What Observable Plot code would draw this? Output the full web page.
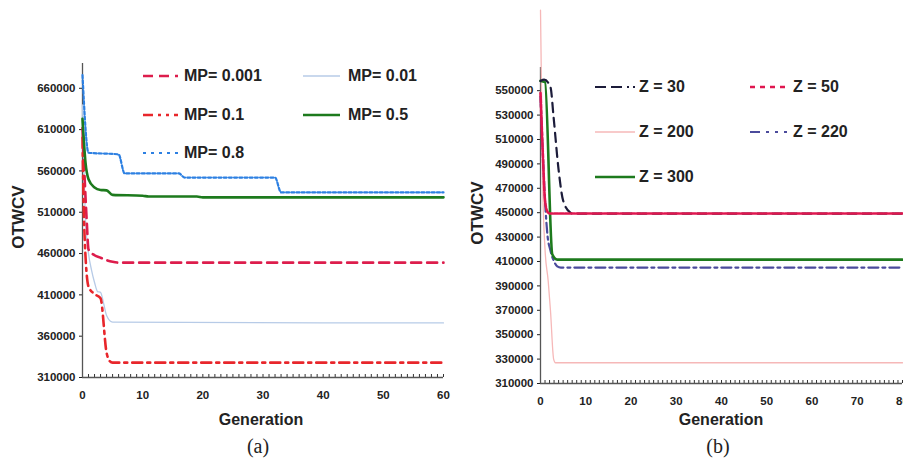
<!DOCTYPE html>
<html><head><meta charset="utf-8">
<script src="https://cdn.jsdelivr.net/npm/d3@7"></script>
<script src="https://cdn.jsdelivr.net/npm/@observablehq/plot@0.6"></script>
<style>
body{margin:0;background:#fff;}
#wrap{position:relative;width:903px;height:461px;overflow:hidden;background:#fff;font-family:"Liberation Sans",Arial,sans-serif;}
.panel{position:absolute;top:0;}
.leg{position:absolute;height:20px;display:flex;align-items:center;font-weight:bold;font-size:16px;color:#222;white-space:nowrap;}
.leg svg{display:block;}
.ttl{position:absolute;font-weight:bold;color:#222;white-space:nowrap;transform:translate(-50%,-50%);}
.cap{position:absolute;font-family:"Liberation Serif","Times New Roman",serif;font-size:20px;color:#222;transform:translate(-50%,-50%);}
</style></head><body><div id="wrap"></div>
<script>
// ---------- Panel (a): mutation probability ----------
const yTicksA = [310000, 360000, 410000, 460000, 510000, 560000, 610000, 660000];
const xTicksA = [0, 10, 20, 30, 40, 50, 60];

const mp0001Gen = [0, 0.3, 0.7, 1, 2, 3, 4, 5, 6, 60];
const mp0001Val = [612000, 560000, 500000, 465000, 458000, 455000, 452000, 450000, 449000, 449000];

const mp001Gen = [0, 0.5, 1, 1.5, 2, 2.5, 3, 3.5, 4, 5, 60];
const mp001Val = [640000, 500000, 460000, 440000, 425000, 414000, 413000, 400000, 385000, 377000, 376000];

const mp01Gen = [0, 0.3, 1, 2, 3, 4, 4.5, 5, 60];
const mp01Val = [600000, 490000, 420000, 411000, 406000, 340000, 330000, 328000, 328000];

const mp05Gen = [0, 0.5, 1, 2, 3, 4, 5, 10, 11, 19, 20, 60];
const mp05Val = [623000, 570000, 550000, 540000, 537000, 536500, 531000, 530000, 529000, 529000, 528000, 528000];

const mp08Gen = [0, 1, 6, 7, 16, 17, 32, 33, 60];
const mp08Val = [676000, 582000, 580000, 557000, 557000, 552000, 552000, 534000, 534000];

// ---------- Panel (b): population size ----------
const yTicksB = [310000, 330000, 350000, 370000, 390000, 410000, 430000, 450000, 470000, 490000, 510000, 530000, 550000];
const xTicksB = [0, 10, 20, 30, 40, 50, 60, 70, 80];

const z30Gen = [0, 0.8, 2.2, 2.9, 4, 5, 6.6, 7, 80];
const z30Val = [558000, 559000, 553000, 528000, 485000, 460000, 450000, 449300, 449300];

const z50Gen = [0, 0.5, 1, 1.5, 2, 80];
const z50Val = [548000, 500000, 460000, 451000, 449300, 449300];

const z200Gen = [0, 0.5, 1, 1.7, 2.2, 2.9, 3.3, 80];
const z200Val = [616000, 470000, 420000, 394000, 370000, 330000, 327000, 327000];

const z220Gen = [0, 0.5, 1, 1.5, 2.2, 3, 3.7, 4.5, 80];
const z220Val = [545000, 500000, 460000, 433000, 419000, 410000, 406000, 405000, 405000];

const z300Gen = [0, 1, 2.6, 3.7, 80];
const z300Val = [558000, 557000, 416000, 411500, 411500];

// ---------- styles ----------
const seriesA = [
  {name: "MP= 0.01",  gen: mp001Gen,  val: mp001Val,  stroke: "#b7cbe7", width: 1.3, dash: null},
  {name: "MP= 0.001", gen: mp0001Gen, val: mp0001Val, stroke: "#dd1d4c", width: 2.6, dash: "10,6"},
  {name: "MP= 0.1",   gen: mp01Gen,   val: mp01Val,   stroke: "#e8262b", width: 2.6, dash: "10,5,3,5", legDash: "10,5,3,5,3,5"},
  {name: "MP= 0.5",   gen: mp05Gen,   val: mp05Val,   stroke: "#1d7a1d", width: 2.6, dash: null},
  {name: "MP= 0.8",   gen: mp08Gen,   val: mp08Val,   stroke: "#2d80e2", width: 2.2, dash: "3,2.2", legDash: "3,5"}
];
const seriesB = [
  {name: "Z = 200", gen: z200Gen, val: z200Val, stroke: "#f6b8b8", width: 1.3, dash: null},
  {name: "Z = 220", gen: z220Gen, val: z220Val, stroke: "#4b4b9c", width: 2.2, dash: "10,4,3,4", legDash: "10,6,3,6,3,6"},
  {name: "Z = 300", gen: z300Gen, val: z300Val, stroke: "#1d7a1d", width: 2.6, dash: null},
  {name: "Z = 30",  gen: z30Gen,  val: z30Val,  stroke: "#1c1c3a", width: 2.2, dash: "9,6", legDash: "11,5,11,5,2,4"},
  {name: "Z = 50",  gen: z50Gen,  val: z50Val,  stroke: "#e0174f", width: 2.6, dash: "4,1.5", legDash: "5,5"}
];

function rows(s) { return s.gen.map((g, i) => ({gen: g, val: s.val[i]})); }

function panel(opts) {
  const {width, marginLeft, marginRight, marginTop, marginBottom, xDomain, yDomain, yTicks, xTicks, series, minor} = opts;
  const plotH = 461 - marginTop - marginBottom;
  return Plot.plot({
    width, height: 461, marginLeft, marginRight, marginTop, marginBottom,
    style: {fontFamily: '"Liberation Sans", Arial, sans-serif', fontWeight: "bold", fontSize: "11.5px", color: "#222", background: "transparent"},
    x: {domain: xDomain, ticks: xTicks, tickSize: 0, tickPadding: 13, tickFormat: d => String(d), label: null},
    y: {domain: yDomain, ticks: yTicks, tickSize: 3, tickPadding: 4, tickFormat: d => String(d), label: null},
    marks: [
      Plot.ruleX(minor, {x: d => d, insetTop: plotH - 3, stroke: "#333", strokeWidth: 1}),
      Plot.ruleY([yDomain[0]], {stroke: "#555", strokeWidth: 1.3}),
      Plot.ruleX([xDomain[0]], {stroke: "#555", strokeWidth: 1.3}),
      ...series.map(s => Plot.line(rows(s), {x: "gen", y: "val", stroke: s.stroke, strokeWidth: s.width, strokeDasharray: s.dash, curve: "monotone-x"}))
    ]
  });
}

const wrap = document.getElementById("wrap");

const pa = panel({width: 460, marginLeft: 82, marginRight: 17, marginTop: 63, marginBottom: 84,
  xDomain: [0, 60], yDomain: [310000, 690000], yTicks: yTicksA, xTicks: xTicksA, series: seriesA, minor: d3.range(0, 61)});
pa.classList.add("panel"); pa.style.left = "0px";
wrap.appendChild(pa);

const pb = panel({width: 433, marginLeft: 70, marginRight: 1, marginTop: 67, marginBottom: 78,
  xDomain: [0, 80], yDomain: [310000, 569000], yTicks: yTicksB, xTicks: xTicksB, series: seriesB, minor: d3.range(0, 81)});
pb.classList.add("panel"); pb.style.left = "470px";
wrap.appendChild(pb);

// ---------- legends ----------
function legendItem(s, x, y, sw, tx) {
  const d = document.createElement("div");
  d.className = "leg";
  d.style.left = x + "px"; d.style.top = (y - 10) + "px";
  const dash = s.legDash || s.dash;
  d.innerHTML = `<svg width="${sw}" height="20"><line x1="0" x2="${sw}" y1="10" y2="10" stroke="${s.stroke}" stroke-width="${s.width}" ${dash ? `stroke-dasharray="${dash}"` : ""}/></svg><span style="margin-left:${tx - x - sw}px">${s.name}</span>`;
  wrap.appendChild(d);
}
const byName = (arr, n) => arr.find(s => s.name === n);
legendItem(byName(seriesA, "MP= 0.001"), 143, 76, 35, 184);
legendItem(byName(seriesA, "MP= 0.01"), 303, 76, 37, 348);
legendItem(byName(seriesA, "MP= 0.1"), 143, 115, 35, 184);
legendItem(byName(seriesA, "MP= 0.5"), 303, 115, 37, 348);
legendItem(byName(seriesA, "MP= 0.8"), 143, 153, 35, 184);

legendItem(byName(seriesB, "Z = 30"), 595, 87, 40, 639);
legendItem(byName(seriesB, "Z = 50"), 750, 87, 37, 793);
legendItem(byName(seriesB, "Z = 200"), 595, 132, 40, 639);
legendItem(byName(seriesB, "Z = 220"), 750, 132, 37, 793);
legendItem(byName(seriesB, "Z = 300"), 595, 177, 40, 639);

// ---------- titles ----------
function ttl(text, x, y, size, rot, cls) {
  const d = document.createElement("div");
  d.className = cls || "ttl";
  d.textContent = text;
  d.style.left = x + "px"; d.style.top = y + "px";
  if (size) d.style.fontSize = size + "px";
  if (rot) d.style.transform = "translate(-50%,-50%) rotate(-90deg)";
  wrap.appendChild(d);
}
ttl("OTWCV", 19, 217, 17, true);
ttl("OTWCV", 478, 213, 17, true);
ttl("Generation", 261, 420, 16);
ttl("Generation", 721, 420, 16);
ttl("(a)", 258, 446, null, false, "cap");
ttl("(b)", 718, 446, null, false, "cap");
</script></body></html>
